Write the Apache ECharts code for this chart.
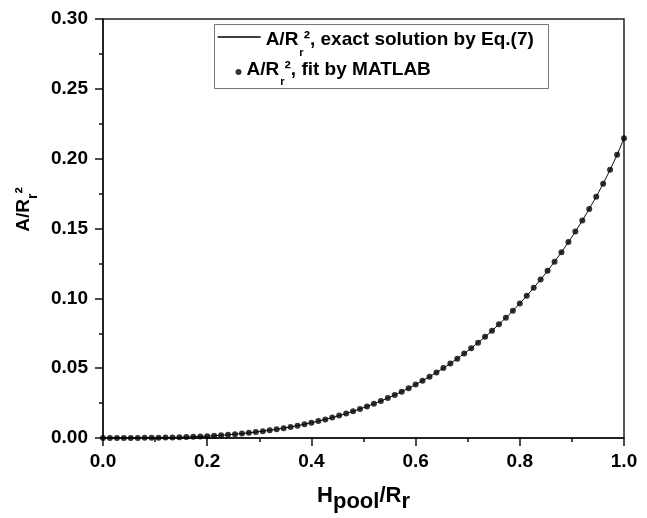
<!DOCTYPE html>
<html>
<head>
<meta charset="utf-8">
<script src="https://cdn.jsdelivr.net/npm/echarts@6/dist/echarts.min.js"></script>
<style>
  html, body { margin: 0; padding: 0; background: #ffffff; }
  #chart { width: 647px; height: 518px; }
</style>
</head>
<body>
<div id="chart"></div>
<script>
// Dimensionless pool height H_pool/R_r
const hPool = [
  0, 0.0133, 0.0267, 0.04, 0.0533, 0.0667, 0.08, 0.0933, 0.1067, 0.12,
  0.1333, 0.1467, 0.16, 0.1733, 0.1867, 0.2, 0.2133, 0.2267, 0.24, 0.2533,
  0.2667, 0.28, 0.2933, 0.3067, 0.32, 0.3333, 0.3467, 0.36, 0.3733, 0.3867,
  0.4, 0.4133, 0.4267, 0.44, 0.4533, 0.4667, 0.48, 0.4933, 0.5067, 0.52,
  0.5333, 0.5467, 0.56, 0.5733, 0.5867, 0.6, 0.6133, 0.6267, 0.64, 0.6533,
  0.6667, 0.68, 0.6933, 0.7067, 0.72, 0.7333, 0.7467, 0.76, 0.7733, 0.7867,
  0.8, 0.8133, 0.8267, 0.84, 0.8533, 0.8667, 0.88, 0.8933, 0.9067, 0.92,
  0.9333, 0.9467, 0.96, 0.9733, 0.9867, 1
];

// Dimensionless area A/R_r^2 at each pool height
const areaRatio = [
  0, 0.00000, 0.00000, 0.00001, 0.00003, 0.00005, 0.00009, 0.00014, 0.00020, 0.00029,
  0.00040, 0.00053, 0.00069, 0.00087, 0.00109, 0.00134, 0.00163, 0.00196, 0.00232, 0.00274,
  0.00320, 0.00370, 0.00426, 0.00488, 0.00555, 0.00628, 0.00707, 0.00793, 0.00886, 0.00986,
  0.01094, 0.01209, 0.01332, 0.01464, 0.01605, 0.01754, 0.01913, 0.02081, 0.02260, 0.02449,
  0.02649, 0.02860, 0.03083, 0.03318, 0.03565, 0.03825, 0.04098, 0.04386, 0.04687, 0.05003,
  0.05335, 0.05683, 0.06047, 0.06428, 0.06827, 0.07244, 0.07681, 0.08137, 0.08615, 0.09114,
  0.09635, 0.10181, 0.10751, 0.11347, 0.11971, 0.12624, 0.13308, 0.14025, 0.14777, 0.15568,
  0.16400, 0.17279, 0.18210, 0.19202, 0.20272, 0.21460
];

const xTickLabels = ['0.0', '0.2', '0.4', '0.6', '0.8', '1.0'];
const yTickLabels = ['0.00', '0.05', '0.10', '0.15', '0.20', '0.25', '0.30'];

const exactName = 'A/Rr², exact solution by Eq.(7)';
const fitName = 'A/Rr², fit by MATLAB';

const FONT = '"Liberation Sans", Arial, sans-serif';
const points = hPool.map((h, i) => [h, areaRatio[i]]);

// "A/R" + subscript r + remainder; mainTop / subTop place the two text levels
function legendRich(mainTop, subTop) {
  return {
    a: { fontFamily: FONT, fontWeight: 'bold', fontSize: 19, color: '#000', lineHeight: 24,
         verticalAlign: 'top', padding: [mainTop, 0, 0, 0] },
    s: { fontFamily: FONT, fontWeight: 'bold', fontSize: 11, color: '#000', lineHeight: 11,
         verticalAlign: 'top', padding: [subTop, 0, 0, 1] }
  };
}
const legendFormatter = name => '{a|A/R}{s|r}{a|' + name.slice(4) + '}';

const chart = echarts.init(document.getElementById('chart'), null, { renderer: 'canvas' });

chart.setOption({
  animation: false,
  backgroundColor: '#ffffff',
  grid: {
    left: 103, right: 23, top: 19, bottom: 79,
    show: true, borderColor: '#222', borderWidth: 1.5, backgroundColor: 'transparent'
  },
  graphic: [{
    type: 'rect',
    shape: { x: 214.5, y: 24.5, width: 334, height: 64 },
    style: { fill: '#fff', stroke: '#777', lineWidth: 1 },
    z: 5
  }],
  legend: [{
    id: 'legendExact',
    data: [exactName],
    left: 217, top: 25,
    padding: 0,
    itemWidth: 43, itemHeight: 14,
    itemGap: 0,
    itemTextGap: 8,
    // plain line sample, no marker in the middle
    itemStyle: { color: 'rgba(0,0,0,0)', borderColor: 'rgba(0,0,0,0)', borderWidth: 0 },
    lineStyle: { color: '#000', width: 1.3, opacity: 1 },
    formatter: legendFormatter,
    textStyle: { rich: legendRich(5, 22) },
    selectedMode: false,
    z: 10
  }, {
    id: 'legendFit',
    data: [fitName],
    left: 235.5, top: 60,
    padding: 0,
    itemWidth: 6, itemHeight: 6,
    itemGap: 0,
    itemTextGap: 10.5,
    formatter: legendFormatter,
    textStyle: { rich: legendRich(0.5, 16.5) },
    selectedMode: false,
    z: 10
  }],
  xAxis: {
    type: 'value', min: 0, max: 1, interval: 0.2,
    name: '{m|H}{s|pool}{m|/R}{s|r}',
    nameLocation: 'middle', nameGap: 47,
    nameTextStyle: {
      rich: {
        m: { fontFamily: FONT, fontWeight: 'bold', fontSize: 22, color: '#000', lineHeight: 22, verticalAlign: 'top' },
        s: { fontFamily: FONT, fontWeight: 'bold', fontSize: 22, color: '#000', lineHeight: 22, verticalAlign: 'top', padding: [6, 0, 0, 0] }
      }
    },
    axisLine: { show: true, onZero: false, lineStyle: { color: '#111', width: 1.5 } },
    axisTick: { show: true, inside: false, length: 8, lineStyle: { color: '#111', width: 1.5 } },
    minorTick: { show: true, splitNumber: 2, length: 4, lineStyle: { color: '#111', width: 1.5 } },
    splitLine: { show: false },
    axisLabel: {
      margin: 14, color: '#000', fontFamily: FONT, fontWeight: 'bold', fontSize: 19,
      formatter: (v) => xTickLabels[Math.round(v / 0.2)]
    }
  },
  yAxis: {
    type: 'value', min: 0, max: 0.3, interval: 0.05,
    name: '{a|A/R}{s|r}{a|²}',
    nameLocation: 'middle', nameGap: 62,
    nameTextStyle: {
      padding: [0, 0, 0, 38],
      rich: {
        a: { fontFamily: FONT, fontWeight: 'bold', fontSize: 19, color: '#000', lineHeight: 22, verticalAlign: 'top' },
        s: { fontFamily: FONT, fontWeight: 'bold', fontSize: 14, color: '#000', lineHeight: 14, verticalAlign: 'top', padding: [12, 0, 0, 0] }
      }
    },
    axisLine: { show: true, onZero: false, lineStyle: { color: '#111', width: 1.5 } },
    axisTick: { show: true, inside: false, length: 8, lineStyle: { color: '#111', width: 1.5 } },
    minorTick: { show: true, splitNumber: 2, length: 4, lineStyle: { color: '#111', width: 1.5 } },
    splitLine: { show: false },
    axisLabel: {
      margin: 15, color: '#000', fontFamily: FONT, fontWeight: 'bold', fontSize: 19,
      formatter: (v) => yTickLabels[Math.round(v / 0.05)]
    }
  },
  series: [{
    name: exactName,
    type: 'line',
    data: points,
    showSymbol: false,
    symbol: 'none',
    smooth: false,
    lineStyle: { color: '#111', width: 1 },
    itemStyle: { color: '#111' },
    z: 2
  }, {
    name: fitName,
    type: 'scatter',
    data: points,
    symbol: 'circle',
    symbolSize: 6,
    itemStyle: { color: '#000' },
    z: 3
  }]
});
</script>
</body>
</html>
